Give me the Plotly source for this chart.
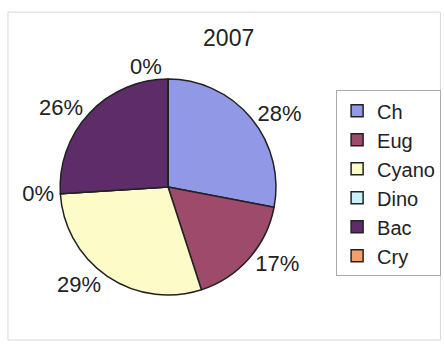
import plotly.graph_objects as go

labels = ["Ch", "Eug", "Cyano", "Dino", "Bac", "Cry"]
values = [28, 17, 29, 0, 26, 0]
colors = ["#9199e6", "#9e4a6a", "#fdfbc8", "#c8f2f8", "#5e2d69", "#f4a06e"]
title = "2007"

FONT = "Liberation Sans, Arial"

fig = go.Figure(go.Pie(
    labels=labels, values=values, sort=False, direction="clockwise", rotation=0,
    marker=dict(colors=colors, line=dict(color="#222222", width=1.5)),
    textinfo="percent", textposition="outside", texttemplate="%{percent:.0%}",
    textfont=dict(family=FONT, size=22, color="#222"),
    domain=dict(x=[0.13, 0.627], y=[0.15, 0.772]),
    showlegend=True, automargin=False,
))
fig.update_layout(
    width=444, height=347, margin=dict(l=0, r=0, t=0, b=0),
    paper_bgcolor="white",
    title=dict(text=title, x=0.515, y=0.89, xanchor="center", yanchor="middle",
               font=dict(family=FONT, size=23, color="#222")),
    legend=dict(x=0.757, y=0.74, xanchor="left", yanchor="top",
                bordercolor="#aaa", borderwidth=1, bgcolor="white",
                font=dict(family=FONT, size=20, color="#222"),
                tracegroupgap=0, itemwidth=30),
    shapes=[dict(type="rect", xref="paper", yref="paper", x0=0.018, x1=0.992, y0=0.02, y1=0.965,
                 line=dict(color="#d8d8d8", width=1))],
)
fig.write_html("out.html")
